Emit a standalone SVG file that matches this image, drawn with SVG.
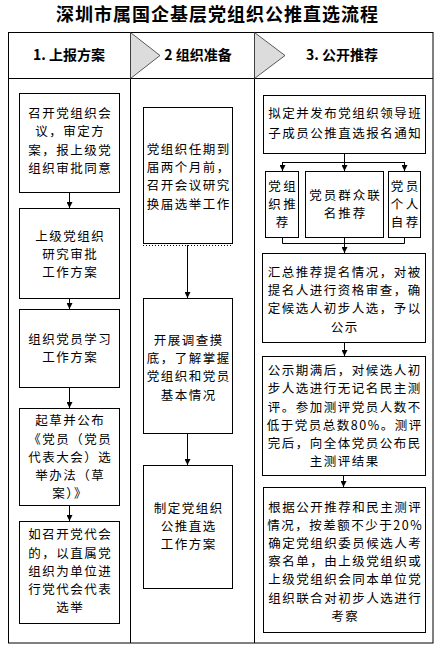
<svg xmlns="http://www.w3.org/2000/svg" width="441" height="647" viewBox="0 0 441 647">
<style>
.t{font-family:"Noto Sans CJK SC","Noto Sans",sans-serif;font-size:12.5px;letter-spacing:1.5px;fill:#000;text-anchor:middle}
.s{letter-spacing:2.5px}
.m{letter-spacing:2px}
.h{font-family:"Noto Sans CJK SC","Noto Sans",sans-serif;font-size:14px;font-weight:bold;fill:#000;text-anchor:middle}
.ttl{font-family:"Noto Sans CJK SC","Noto Sans",sans-serif;font-size:18px;letter-spacing:1px;font-weight:bold;fill:#000;text-anchor:middle}
.box{fill:#fff;stroke:#000;stroke-width:1}
.frame{fill:none;stroke:#000;stroke-width:1}
.tri{fill:#dcdcdc;stroke:#333;stroke-width:0.8}
.ln{fill:none;stroke:#000;stroke-width:1}
.arr{fill:none;stroke:#000;stroke-width:1;marker-end:url(#ah)}
</style>
<defs>
<marker id="ah" viewBox="0 0 6 6" refX="6" refY="3" markerWidth="6" markerHeight="6" markerUnits="userSpaceOnUse" orient="auto">
<path d="M0,0 L6,3 L0,6 Z" fill="#000"/>
</marker>
</defs>
<rect width="441" height="647" fill="#fff"/>
<text class="ttl" x="217.5" y="21">深圳市属国企基层党组织公推直选流程</text>
<g id="frame">
<rect class="frame" x="8.5" y="32.5" width="424.5" height="610.5"/>
<line class="ln" x1="8.5" y1="78.5" x2="433" y2="78.5"/>
<line class="ln" x1="130.5" y1="32.5" x2="130.5" y2="643"/>
<line class="ln" x1="254.5" y1="32.5" x2="254.5" y2="643"/>
<polygon class="tri" points="130.5,32.5 160,55.5 130.5,78.5"/>
<polygon class="tri" points="254.5,32.5 285,55.5 254.5,78.5"/>
</g>
<g id="headers">
<text class="h" x="69" y="60">1. 上报方案</text>
<text class="h" x="198" y="60">2 组织准备</text>
<text class="h" x="342" y="60">3. 公开推荐</text>
</g>
<g id="connectors">
<line class="arr" x1="69.5" y1="192" x2="69.5" y2="208"/>
<line class="arr" x1="69.5" y1="298" x2="69.5" y2="309"/>
<line class="arr" x1="69.5" y1="387" x2="69.5" y2="408"/>
<line class="arr" x1="69.5" y1="505" x2="69.5" y2="521"/>
<line x1="143" y1="245.5" x2="232" y2="245.5" stroke="#000" stroke-width="1" stroke-dasharray="1,2"/>
<line class="arr" x1="187.5" y1="245" x2="187.5" y2="298"/>
<line class="arr" x1="187.5" y1="433" x2="187.5" y2="465"/>
<line class="ln" x1="344.5" y1="153" x2="344.5" y2="162.5"/>
<line class="ln" x1="282.5" y1="162.5" x2="404.5" y2="162.5"/>
<line class="arr" x1="282.5" y1="162" x2="282.5" y2="171"/>
<line class="arr" x1="344.5" y1="162" x2="344.5" y2="171"/>
<line class="arr" x1="404.5" y1="162" x2="404.5" y2="171"/>
<line class="ln" x1="282.5" y1="237" x2="282.5" y2="243.5"/>
<line class="ln" x1="404.5" y1="237" x2="404.5" y2="243.5"/>
<line class="ln" x1="282.5" y1="243.5" x2="404.5" y2="243.5"/>
<line class="arr" x1="344.5" y1="237" x2="344.5" y2="253"/>
<line class="arr" x1="344.5" y1="342" x2="344.5" y2="356"/>
<line class="arr" x1="343.5" y1="475" x2="343.5" y2="487"/>
</g>
<g id="n1">
<rect class="box" x="19.5" y="93.5" width="100" height="99"/>
<text class="t"><tspan x="70.2" y="118.2">召开党组织会</tspan><tspan x="70.2" y="136.4">议，审定方</tspan><tspan x="70.2" y="154.6">案，报上级党</tspan><tspan x="70.2" y="172.8">组织审批同意</tspan></text>
</g>
<g id="n2">
<rect class="box" x="19.5" y="208.5" width="100" height="90"/>
<text class="t"><tspan x="70.2" y="240.5">上级党组织</tspan><tspan x="70.2" y="258.7">研究审批</tspan><tspan x="70.2" y="276.9">工作方案</tspan></text>
</g>
<g id="n3">
<rect class="box" x="19.5" y="309.5" width="100" height="78"/>
<text class="t"><tspan x="70.2" y="344.1">组织党员学习</tspan><tspan x="70.2" y="362.3">工作方案</tspan></text>
</g>
<g id="n4">
<rect class="box" x="19.5" y="408.5" width="100" height="97"/>
<text class="t"><tspan x="70.2" y="425.3">起草并公布</tspan><tspan x="70.2" y="443.5">《党员（党员</tspan><tspan x="70.2" y="461.7">代表大会）选</tspan><tspan x="70.2" y="479.9">举办法（草</tspan><tspan x="70.2" y="498.1">案）》</tspan></text>
</g>
<g id="n5">
<rect class="box" x="19.5" y="521.5" width="100" height="102"/>
<text class="t"><tspan x="70.2" y="539.3">如召开党代会</tspan><tspan x="70.2" y="557.5">的，以直属党</tspan><tspan x="70.2" y="575.7">组织为单位进</tspan><tspan x="70.2" y="593.9">行党代会代表</tspan><tspan x="70.2" y="612.1">选举</tspan></text>
</g>
<g id="n6">
<rect class="box" x="143.5" y="107.5" width="89" height="136"/>
<text class="t"><tspan x="188.7" y="153.9">党组织任期到</tspan><tspan x="188.7" y="172.1">届两个月前，</tspan><tspan x="188.7" y="190.3">召开会议研究</tspan><tspan x="188.7" y="208.5">换届选举工作</tspan></text>
</g>
<g id="n7">
<rect class="box" x="143.5" y="298.5" width="89" height="135"/>
<text class="t"><tspan x="188.7" y="344.9">开展调查摸</tspan><tspan x="188.7" y="363.1">底，了解掌握</tspan><tspan x="188.7" y="381.3">党组织和党员</tspan><tspan x="188.7" y="399.5">基本情况</tspan></text>
</g>
<g id="n8">
<rect class="box" x="143.5" y="465.5" width="89" height="123"/>
<text class="t"><tspan x="188.7" y="512.5">制定党组织</tspan><tspan x="188.7" y="530.7">公推直选</tspan><tspan x="188.7" y="548.9">工作方案</tspan></text>
</g>
<g id="n9">
<rect class="box" x="263.5" y="95.5" width="162" height="58"/>
<text class="t"><tspan x="345.2" y="117.7">拟定并发布党组织领导班</tspan><tspan x="345.2" y="137.7">子成员公推直选报名通知</tspan></text>
</g>
<g id="n10">
<rect class="box" x="265.5" y="171.5" width="33" height="66"/>
<text class="t s"><tspan x="283.2" y="190.7">党组</tspan><tspan x="283.2" y="208.9">织推</tspan><tspan x="283.2" y="227.1">荐</tspan></text>
</g>
<g id="n11">
<rect class="box" x="305.5" y="171.5" width="78" height="66"/>
<text class="t m"><tspan x="345.5" y="199.6">党员群众联</tspan><tspan x="345.5" y="217.8">名推荐</tspan></text>
</g>
<g id="n12">
<rect class="box" x="388.5" y="171.5" width="32" height="66"/>
<text class="t s"><tspan x="405.7" y="190.7">党员</tspan><tspan x="405.7" y="208.9">个人</tspan><tspan x="405.7" y="227.1">自荐</tspan></text>
</g>
<g id="n13">
<rect class="box" x="262.5" y="253.5" width="163" height="89"/>
<text class="t"><tspan x="344.7" y="276.9">汇总推荐提名情况，对被</tspan><tspan x="344.7" y="295.1">提名人进行资格审查，确</tspan><tspan x="344.7" y="313.3">定候选人初步人选，予以</tspan><tspan x="344.7" y="331.5">公示</tspan></text>
</g>
<g id="n14">
<rect class="box" x="262.5" y="356.5" width="163" height="119"/>
<text class="t"><tspan x="344.7" y="375.2">公示期满后，对候选人初</tspan><tspan x="344.7" y="393.4">步人选进行无记名民主测</tspan><tspan x="344.7" y="411.6">评。参加测评党员人数不</tspan><tspan x="344.7" y="429.8">低于党员总数80%。测评</tspan><tspan x="344.7" y="448">完后，向全体党员公布民</tspan><tspan x="344.7" y="466.2">主测评结果</tspan></text>
</g>
<g id="n15">
<rect class="box" x="263.5" y="487.5" width="162" height="145"/>
<text class="t"><tspan x="345.2" y="511.6">根据公开推荐和民主测评</tspan><tspan x="345.2" y="529.8">情况，按差额不少于20%</tspan><tspan x="345.2" y="548">确定党组织委员候选人考</tspan><tspan x="345.2" y="566.2">察名单，由上级党组织或</tspan><tspan x="345.2" y="584.4">上级党组织会同本单位党</tspan><tspan x="345.2" y="602.6">组织联合对初步人选进行</tspan><tspan x="345.2" y="620.8">考察</tspan></text>
</g>
</svg>
